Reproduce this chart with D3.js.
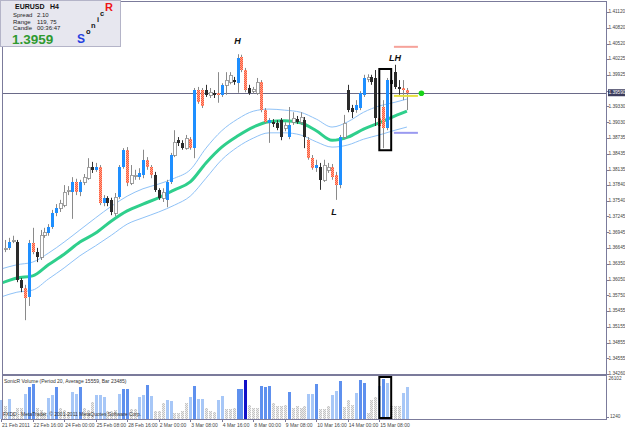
<!DOCTYPE html>
<html>
<head>
<meta charset="utf-8">
<script src="https://cdn.jsdelivr.net/npm/d3@7/dist/d3.min.js"></script>
<style>
body { margin:0; background:#fff; }
svg { display:block; font-family:"Liberation Sans", Arial, sans-serif; }
</style>
</head>
<body>
<svg id="chart" width="625" height="429"></svg>
<script>
// EURUSD H4 bars
var openP = [1.3667,1.3663,1.3665,1.3678,1.3676,1.3604,1.3589,1.3572,1.3674,1.3657,1.3648,1.3689,1.3693,1.3705,1.3731,1.3741,1.3746,1.3773,1.3771,1.3790,
	1.3771,1.3790,1.3797,1.3818,1.3813,1.3818,1.3750,1.3760,1.3756,1.3731,1.3761,1.3818,1.3851,1.3788,1.3801,1.3799,1.3803,1.3832,1.3818,1.3803,
	1.3775,1.3760,1.3756,1.3790,1.3841,1.3869,1.3864,1.3854,1.3871,1.3854,1.3964,1.3964,1.3964,1.3955,1.3959,1.3959,1.3955,1.3974,1.3979,1.3983,
	1.3977,1.4027,1.4002,1.3968,1.3962,1.3959,1.3979,1.3926,1.3902,1.3903,1.3902,1.3907,1.3892,1.3875,1.3903,1.3909,1.3903,1.3907,1.3869,1.3835,
	1.3816,1.3818,1.3794,1.3813,1.3818,1.3803,1.3784,1.3875,1.3964,1.3930,1.3926,1.3930,1.3955,1.3985,1.3989,1.3987,1.3911,1.3932,1.3892,1.3983,
	1.3998,1.3970,1.3968,1.3964]
var highP = [1.3708,1.3680,1.3684,1.3688,1.3680,1.3608,1.3595,1.3680,1.3703,1.3665,1.3699,1.3703,1.3710,1.3737,1.3748,1.3756,1.3784,1.3782,1.3799,1.3796,
	1.3794,1.3805,1.3835,1.3828,1.3826,1.3822,1.3765,1.3763,1.3760,1.3769,1.3822,1.3854,1.3856,1.3822,1.3813,1.3816,1.3851,1.3837,1.3822,1.3809,
	1.3778,1.3778,1.3794,1.3845,1.3888,1.3875,1.3869,1.3879,1.3875,1.3968,1.3970,1.3968,1.3974,1.3968,1.3964,1.3998,1.3977,1.3998,1.3998,1.3989,
	1.4032,1.4031,1.4006,1.3974,1.3970,1.3987,1.3983,1.3930,1.3911,1.3909,1.3907,1.3911,1.3903,1.3932,1.3922,1.3915,1.3922,1.3913,1.3875,1.3841,
	1.3832,1.3826,1.3832,1.3826,1.3824,1.3809,1.3879,1.3917,1.3974,1.3936,1.3945,1.3962,1.3993,1.3994,1.3993,1.4002,1.3922,1.3945,1.3987,1.3987,
	1.4012,1.3983,1.3983,1.3968]
var lowP = [1.3657,1.3657,1.3661,1.3674,1.3600,1.3581,1.3528,1.3555,1.3653,1.3638,1.3642,1.3684,1.3688,1.3701,1.3725,1.3733,1.3742,1.3765,1.3720,1.3765,
	1.3763,1.3784,1.3794,1.3807,1.3809,1.3746,1.3744,1.3744,1.3727,1.3725,1.3758,1.3815,1.3782,1.3784,1.3794,1.3794,1.3797,1.3813,1.3797,1.3771,
	1.3756,1.3752,1.3742,1.3786,1.3837,1.3858,1.3851,1.3851,1.3851,1.3835,1.3938,1.3930,1.3951,1.3949,1.3949,1.3940,1.3951,1.3955,1.3975,1.3974,
	1.3959,1.3998,1.3960,1.3955,1.3957,1.3955,1.3922,1.3900,1.3864,1.3894,1.3888,1.3869,1.3886,1.3871,1.3898,1.3900,1.3898,1.3854,1.3832,1.3813,
	1.3809,1.3775,1.3790,1.3807,1.3794,1.3756,1.3778,1.3871,1.3922,1.3911,1.3921,1.3926,1.3951,1.3979,1.3974,1.3896,1.3888,1.3854,1.3888,1.3968,
	1.3966,1.3955,1.3945,1.3926]
var closeP = [1.3661,1.3665,1.3676,1.3680,1.3604,1.3589,1.3570,1.3674,1.3657,1.3648,1.3689,1.3695,1.3705,1.3731,1.3741,1.3750,1.3771,1.3775,1.3790,1.3771,
	1.3790,1.3799,1.3818,1.3813,1.3818,1.3750,1.3760,1.3750,1.3733,1.3761,1.3818,1.3851,1.3788,1.3803,1.3803,1.3807,1.3832,1.3818,1.3803,1.3775,
	1.3760,1.3771,1.3790,1.3841,1.3866,1.3864,1.3854,1.3873,1.3854,1.3964,1.3941,1.3934,1.3955,1.3960,1.3955,1.3955,1.3974,1.3983,1.3993,1.3979,
	1.4025,1.4002,1.3964,1.3959,1.3966,1.3979,1.3926,1.3903,1.3907,1.3900,1.3892,1.3875,1.3898,1.3898,1.3911,1.3903,1.3913,1.3875,1.3835,1.3816,
	1.3822,1.3794,1.3822,1.3818,1.3799,1.3784,1.3875,1.3902,1.3926,1.3922,1.3936,1.3959,1.3987,1.3989,1.3979,1.3911,1.3896,1.3892,1.3983,1.3975,
	1.3970,1.3966,1.3964,1.3959]

// SonicR volume and its colour level (0 below average .. 3 climax)
var volume = [12500,9000,13000,5000,7500,7500,16000,20000,22000,7500,6500,5500,13500,15500,20000,8000,6500,5500,17000,16000,
	20000,8000,6500,11500,15500,15500,14000,6000,6000,6500,16000,19000,19000,7000,7000,14500,15500,21500,15000,6000,
	6000,10500,12500,12000,5000,5000,6000,11000,14000,21000,13000,13000,7500,6000,5500,12500,15000,7000,7000,7500,
	19000,19000,24500,9500,7500,7500,20500,20000,21000,11000,9000,9000,9500,17500,8000,9000,8000,9000,16000,16000,
	22000,7000,7000,9000,15500,18000,23500,8500,12500,9500,16500,24500,22500,5000,12500,14000,21000,25000,22500,9000,
	9000,9000,16500,20000]
var volLevel = [1,0,1,0,0,0,1,2,2,0,0,0,1,1,2,0,0,0,1,1,
	2,0,0,0,1,1,1,0,0,0,1,2,2,0,0,1,1,2,1,0,
	0,0,1,1,0,0,0,0,1,2,1,1,0,0,0,1,1,0,0,0,
	2,2,3,0,0,0,2,2,2,0,0,0,0,2,0,0,0,0,1,1,
	2,0,0,0,1,1,2,0,0,0,1,2,2,0,0,0,1,2,1,0,
	0,0,1,1]

// Sonic R dragon: EMA 34 of high / close / low, sampled every 4 bars
var emaBars = [0,4,8,12,16,20,24,28,32,36,40,44,48,52,56,60,64,68,72,76,80,84,88,92,96,100,103]
var emaHigh = [1.3625,1.3633,1.3638,1.3655,1.3676,1.3699,1.3722,1.3744,1.3763,1.3777,1.3786,1.3797,1.3813,1.3854,1.3887,1.3909,1.3924,1.3928,1.3926,1.3922,1.3909,1.3894,1.3904,1.3922,1.3934,1.3941,1.3947]
var emaMid = [1.3598,1.3608,1.3612,1.3633,1.3653,1.3676,1.3693,1.3716,1.3735,1.3748,1.3760,1.3775,1.3790,1.3826,1.3856,1.3877,1.3894,1.3904,1.3906,1.3902,1.3887,1.3869,1.3875,1.3890,1.3902,1.3915,1.3924]
var emaLow = [1.3572,1.3581,1.3585,1.3606,1.3627,1.3650,1.3669,1.3689,1.3710,1.3722,1.3733,1.3746,1.3763,1.3797,1.3832,1.3856,1.3873,1.3883,1.3883,1.3879,1.3866,1.3856,1.3860,1.3871,1.3879,1.3888,1.3894]

var priceTicks = ['1.41120','1.40820','1.40520','1.40225','1.39925','1.39630','1.39330','1.39030','1.38735','1.38435','1.38135','1.37840',
	'1.37540','1.37245','1.36945','1.36645','1.36350','1.36050','1.35750','1.35455','1.35155','1.34855','1.34555','1.34260']
var timeLabels = ['21 Feb 2011','22 Feb 16:00','24 Feb 00:00','25 Feb 08:00','28 Feb 16:00','2 Mar 00:00','3 Mar 08:00',
	'4 Mar 16:00','8 Mar 00:00','9 Mar 08:00','10 Mar 16:00','14 Mar 00:00','15 Mar 08:00']
var timeLabelBars = [0,8,16,24,32,40,48,56,64,72,80,88,96]

var bidPrice = 1.3959
var volMin = 1240, volMax = 26102
var swingText = ['H','L','LH']
var swingBar = [60,84.5,100]
var swingPrice = [1.4055,1.3731,1.4023]
var levelPrice = [1.4046,1.3953,1.3883]
var levelColor = ['#f6a29a','#e6e040','#9a9af0']
var boxBars = [96.5,98.5], boxPrices = [1.4004,1.3850]

function draw_chart(svg_ele) {

	var svg = d3.select(svg_ele)
	svg.selectAll('*').remove()

	var n = openP.length
	var plot = {'left':2, 'right':606, 'top':1, 'bottom':374}
	var vol = {'top':375, 'bottom':419}
	var frameColor = '#7b7b9b'
	var axisFont = 4.7

	var x = d3.scaleLinear().domain([0, n-1]).range([1.1, 1.1 + 3.94*(n-1)])
	var y = d3.scaleLinear().domain([1.3426, 1.4112]).range([374, 12])
	var yv = d3.scaleLinear().domain([volMin, volMax]).range([419, 377])

	var defs = svg.append('defs')
	var pat = defs.append('pattern').attr('id','redHatch').attr('width',2).attr('height',2).attr('patternUnits','userSpaceOnUse')
	pat.append('rect').attr('width',2).attr('height',2).attr('fill','#ff5a3a')
	pat.append('rect').attr('width',1).attr('height',1).attr('fill','#ffa38c')
	pat.append('rect').attr('x',1).attr('y',1).attr('width',1).attr('height',1).attr('fill','#ffa38c')
	var gpat = defs.append('pattern').attr('id','grayDots').attr('width',2).attr('height',2).attr('patternUnits','userSpaceOnUse')
	gpat.append('rect').attr('width',2).attr('height',2).attr('fill','#ececec')
	gpat.append('rect').attr('width',1).attr('height',1).attr('fill','#c4c4c4')
	gpat.append('rect').attr('x',1).attr('y',1).attr('width',1).attr('height',1).attr('fill','#c4c4c4')
	defs.append('clipPath').attr('id','plotClip').append('rect')
		.attr('x',plot.left+1).attr('y',plot.top+1).attr('width',plot.right-plot.left-1).attr('height',plot.bottom-plot.top-1)

	var main = svg.append('g').attr('clip-path','url(#plotClip)')

	// bid line
	main.append('line')
		.attr('x1',plot.left).attr('x2',plot.right)
		.attr('y1',Math.round(y(bidPrice))+0.5).attr('y2',Math.round(y(bidPrice))+0.5)
		.attr('stroke','#6a6a88').attr('stroke-width',1)

	// dragon lines
	var lineOf = function(arr) {
		return d3.line().x(function(d,i){return x(emaBars[i])}).y(function(d){return y(d)}).curve(d3.curveMonotoneX)(arr)
	}
	main.append('path').attr('d',lineOf(emaHigh)).attr('fill','none').attr('stroke','#8fc2f7').attr('stroke-width',1)
	main.append('path').attr('d',lineOf(emaLow)).attr('fill','none').attr('stroke','#8fc2f7').attr('stroke-width',1)
	main.append('path').attr('d',lineOf(emaMid)).attr('fill','none').attr('stroke','#2fcf8c').attr('stroke-width',3)

	var bars = d3.range(n)

	// wicks
	main.append('g').selectAll('line').data(bars).enter().append('line')
		.attr('x1',function(i){return Math.round(x(i))+0.5})
		.attr('x2',function(i){return Math.round(x(i))+0.5})
		.attr('y1',function(i){return y(highP[i])})
		.attr('y2',function(i){return y(lowP[i])})
		.attr('stroke',function(i){
			if (volLevel[i] == 0 && closeP[i] < openP[i]) return '#333'
			return '#8a8a8a'
		})
		.attr('stroke-width',1)

	// bodies
	main.append('g').selectAll('rect').data(bars).enter().append('rect')
		.attr('x',function(i){return Math.round(x(i))-1})
		.attr('y',function(i){return Math.round(y(Math.max(openP[i],closeP[i])))})
		.attr('width',3)
		.attr('height',function(i){return Math.max(1, Math.round(Math.abs(y(openP[i])-y(closeP[i]))))})
		.attr('fill',function(i){
			var up = closeP[i] >= openP[i]
			if (volLevel[i] > 0) return up ? '#1e8fff' : 'url(#redHatch)'
			return up ? '#ffffff' : '#2a2a2a'
		})
		.attr('stroke',function(i){
			if (volLevel[i] == 0 && closeP[i] >= openP[i]) return '#8a8a8a'
			return 'none'
		})
		.attr('stroke-width',0.8)
		.attr('shape-rendering','crispEdges')

	// marker levels right of the last bar
	main.append('g').selectAll('line').data(levelPrice).enter().append('line')
		.attr('x1',x(n-1)-13).attr('x2',x(n-1)+11)
		.attr('y1',function(d){return y(d)}).attr('y2',function(d){return y(d)})
		.attr('stroke',function(d,i){return levelColor[i]}).attr('stroke-width',2)

	main.append('circle').attr('cx',x(n-1)+14.5).attr('cy',y(bidPrice)+0.5).attr('r',2.8).attr('fill','#19d419')

	// highlight box
	main.append('rect')
		.attr('x',x(boxBars[0])-2).attr('y',y(boxPrices[0]))
		.attr('width',x(boxBars[1])-x(boxBars[0])+4).attr('height',y(boxPrices[1])-y(boxPrices[0]))
		.attr('fill','none').attr('stroke','#000').attr('stroke-width',2)

	// swing labels
	main.append('g').selectAll('text').data(swingText).enter().append('text')
		.attr('x',function(d,i){return x(swingBar[i])})
		.attr('y',function(d,i){return y(swingPrice[i])})
		.attr('text-anchor','middle').attr('dominant-baseline','middle')
		.attr('font-size',9).attr('font-weight','bold').attr('font-style','italic')
		.attr('fill','#111').text(function(d){return d})

	// volume panel
	var vg = svg.append('g')
	vg.selectAll('rect').data(bars).enter().append('rect')
		.attr('x',function(i){return Math.round(x(i))-1})
		.attr('y',function(i){return yv(volume[i])})
		.attr('width',3)
		.attr('height',function(i){return yv(volMin)-yv(volume[i])})
		.attr('fill',function(i){return ['url(#grayDots)','#a7c7f7','#5e90ee','#1010c8'][volLevel[i]]})
		.attr('shape-rendering','crispEdges')
	vg.append('rect')
		.attr('x',x(boxBars[0])-2).attr('y',vol.top+2)
		.attr('width',x(boxBars[1])-x(boxBars[0])+4).attr('height',vol.bottom-vol.top-3)
		.attr('fill','none').attr('stroke','#000').attr('stroke-width',2)
	vg.append('text').attr('x',4).attr('y',383).attr('font-size',5).attr('fill','#333')
		.text('SonicR Volume (Period 20, Average 15559, Bar 23485)')
	vg.append('text').attr('x',3).attr('y',416).attr('font-size',5).attr('fill','#333')
		.text('FXDD - MetaTrader, \u00a9 2001-2011 MetaQuotes Software Corp.')

	// frames
	svg.append('rect').attr('x',plot.left+0.5).attr('y',plot.top+0.5)
		.attr('width',plot.right-plot.left).attr('height',plot.bottom-plot.top)
		.attr('fill','none').attr('stroke',frameColor)
	svg.append('rect').attr('x',plot.left+0.5).attr('y',vol.top+0.5)
		.attr('width',plot.right-plot.left).attr('height',vol.bottom-vol.top)
		.attr('fill','none').attr('stroke',frameColor)

	// price axis (labels under the bid box are skipped, as the terminal does)
	var shown = priceTicks.filter(function(d){return Math.abs(y(+d)-y(bidPrice)) > 6})
	var ax = svg.append('g').attr('class','g_yaxis')
	ax.selectAll('line').data(priceTicks).enter().append('line')
		.attr('x1',plot.right).attr('x2',plot.right+3)
		.attr('y1',function(d){return Math.round(y(+d))+0.5}).attr('y2',function(d){return Math.round(y(+d))+0.5})
		.attr('stroke',frameColor)
	ax.selectAll('text').data(shown).enter().append('text')
		.attr('x',plot.right+2.5).attr('y',function(d){return y(+d)})
		.attr('dominant-baseline','middle').attr('font-size',axisFont).attr('fill','#444')
		.text(function(d){return d})
	ax.append('rect').attr('x',plot.right+2).attr('y',y(bidPrice)-3.5).attr('width',17).attr('height',7).attr('fill','#3c3c5c')
	ax.append('text').attr('x',plot.right+2.5).attr('y',y(bidPrice)+0.5)
		.attr('dominant-baseline','middle').attr('font-size',axisFont).attr('fill','#fff').text(bidPrice.toFixed(5))
	ax.append('text').attr('x',plot.right+2.5).attr('y',379).attr('dominant-baseline','middle').attr('font-size',axisFont).attr('fill','#444').text(volMax)
	ax.append('line').attr('x1',plot.right).attr('x2',plot.right+3).attr('y1',417.5).attr('y2',417.5).attr('stroke',frameColor)
	ax.append('text').attr('x',plot.right+4).attr('y',417).attr('dominant-baseline','middle').attr('font-size',axisFont).attr('fill','#444').text(volMin)

	// time axis
	var tx = svg.append('g').attr('class','g_xaxis')
	tx.selectAll('line').data(timeLabelBars).enter().append('line')
		.attr('x1',function(d){return Math.round(x(d))+0.5}).attr('x2',function(d){return Math.round(x(d))+0.5})
		.attr('y1',vol.bottom).attr('y2',vol.bottom+3).attr('stroke',frameColor)
	tx.selectAll('text').data(timeLabels).enter().append('text')
		.attr('x',function(d,i){return x(timeLabelBars[i])+1})
		.attr('y',427).attr('font-size',5).attr('fill','#444')
		.text(function(d){return d})

	// info panel
	var info = svg.append('g')
	info.append('rect').attr('x',0.5).attr('y',0.5).attr('width',120).attr('height',46)
		.attr('fill','#e7e7ef').attr('stroke','#b4b4c8')
	info.append('text').attr('x',15).attr('y',8.5).attr('font-size',7).attr('font-weight','bold').attr('fill','#111').text('EURUSD')
	info.append('text').attr('x',50).attr('y',8.5).attr('font-size',7).attr('font-weight','bold').attr('fill','#111').text('H4')
	var rows = [['Spread','2.10'],['Range','119, 75'],['Candle','00:36:47']]
	rows.forEach(function(r, k) {
		info.append('text').attr('x',13).attr('y',17+k*6.5).attr('font-size',6).attr('fill','#222').text(r[0])
		info.append('text').attr('x',37).attr('y',17+k*6.5).attr('font-size',6).attr('fill','#222').text(r[1])
	})
	info.append('text').attr('x',12).attr('y',44).attr('font-size',13.5).attr('font-weight','bold').attr('fill','#2f9a2f').text(bidPrice.toFixed(4))
	var sonic = [['S',77,43,12,'#2540e0'],['o',86,34,7.5,'#111'],['n',91,28,7.5,'#111'],['i',97,22,7.5,'#111'],['c',100,16,7.5,'#111'],['R',105,11,11,'#ee1515']]
	sonic.forEach(function(s) {
		info.append('text').attr('x',s[1]).attr('y',s[2]).attr('font-size',s[3]).attr('font-weight','bold').attr('fill',s[4]).text(s[0])
	})
}

draw_chart('#chart')
</script>
</body>
</html>
